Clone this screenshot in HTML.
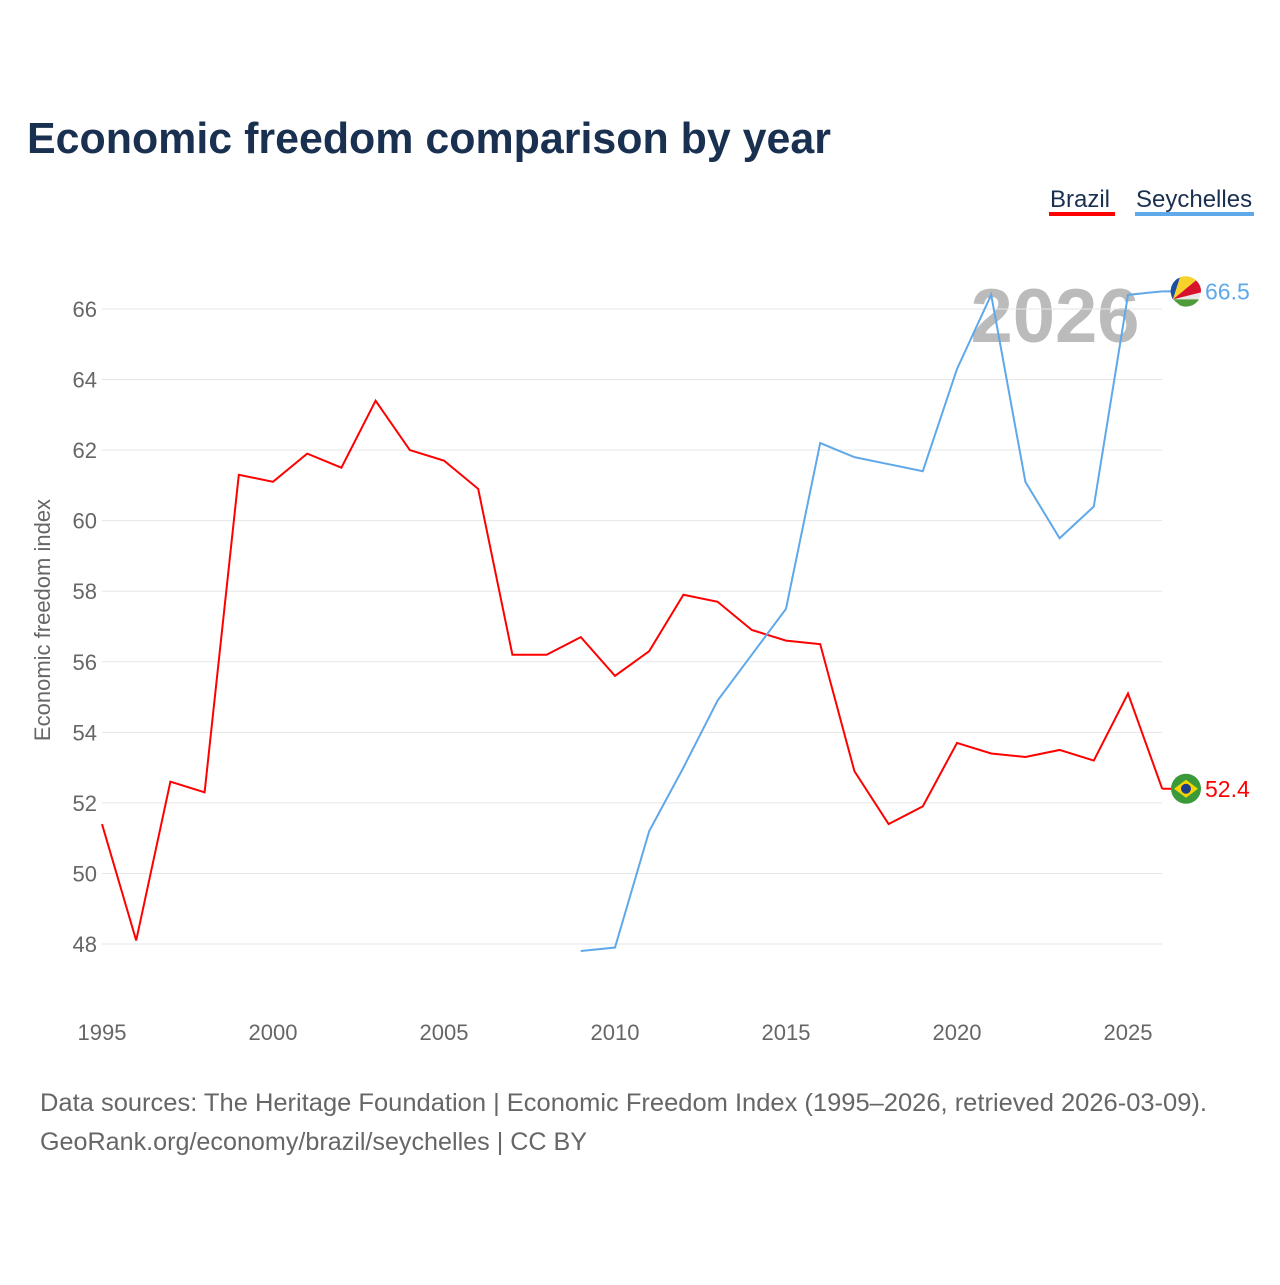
<!DOCTYPE html>
<html><head><meta charset="utf-8"><style>
body{margin:0;background:#fff;font-family:"Liberation Sans",sans-serif;}
</style></head><body>
<svg id="chart" width="1280" height="1280" xmlns="http://www.w3.org/2000/svg">
<text x="27" y="153" font-size="44" font-weight="bold" fill="#1a3050" textLength="804" lengthAdjust="spacingAndGlyphs">Economic freedom comparison by year</text>
<g><text x="1050" y="207" font-size="24" fill="#1a3050">Brazil</text><rect x="1049" y="212" width="66" height="4" fill="#ff0000"/></g>
<g><text x="1136" y="207" font-size="24" fill="#1a3050">Seychelles</text><rect x="1135" y="212" width="119" height="4" fill="#5fa8ea"/></g>
<text x="1055" y="342" font-size="76" font-weight="bold" fill="#bbbbbb" text-anchor="middle">2026</text>
<text transform="translate(50,620) rotate(-90)" font-size="22" fill="#666" text-anchor="middle">Economic freedom index</text>
<g id="grid"></g><g id="lines"></g>
<text x="40" y="1111" font-size="25" fill="#666" textLength="1167" lengthAdjust="spacingAndGlyphs">Data sources: The Heritage Foundation | Economic Freedom Index (1995–2026, retrieved 2026-03-09).</text>
<text x="40" y="1150" font-size="25" fill="#666" textLength="547" lengthAdjust="spacingAndGlyphs">GeoRank.org/economy/brazil/seychelles | CC BY</text>
</svg>
<script>
const years=[1995,1996,1997,1998,1999,2000,2001,2002,2003,2004,2005,2006,2007,2008,2009,2010,2011,2012,2013,2014,2015,2016,2017,2018,2019,2020,2021,2022,2023,2024,2025,2026];
const brazil=[51.4,48.1,52.6,52.3,61.3,61.1,61.9,61.5,63.4,62.0,61.7,60.9,56.2,56.2,56.7,55.6,56.3,57.9,57.7,56.9,56.6,56.5,52.9,51.4,51.9,53.7,53.4,53.3,53.5,53.2,55.1,52.4];
const seyYears=[2009,2010,2011,2012,2013,2014,2015,2016,2017,2018,2019,2020,2021,2022,2023,2024,2025,2026];
const seychelles=[47.8,47.9,51.2,53.0,54.9,56.2,57.5,62.2,61.8,61.6,61.4,64.3,66.4,61.1,59.5,60.4,66.4,66.5];
const yTicks=[48,50,52,54,56,58,60,62,64,66];
const xTicks=[1995,2000,2005,2010,2015,2020,2025];
const NS="http://www.w3.org/2000/svg";
const x=v=>102+(v-1995)*34.2;
const y=v=>944-(v-48)*35.28;
function mk(t,a,p){const e=document.createElementNS(NS,t);for(const k in a)e.setAttribute(k,a[k]);p.appendChild(e);return e;}
const g=document.getElementById('grid'),L=document.getElementById('lines');
yTicks.forEach(t=>{
 const l=mk('line',{x1:102,x2:1162,y1:y(t),y2:y(t),stroke:'#e6e6e6'},g);
 
 
 const tx=mk('text',{x:97,y:y(t)+8,'font-size':22,fill:'#666','text-anchor':'end'},g);tx.textContent=t;
 
 
});
xTicks.forEach(t=>{
 const tx=mk('text',{x:x(t),y:1040,'font-size':22,fill:'#666','text-anchor':'middle'},g);tx.textContent=t;
 
 
});
const p1=mk('polyline',{points:years.map((yr,i)=>x(yr)+','+y(brazil[i])).join(' '),fill:'none',stroke:'#ff0000','stroke-width':2},L);


const p2=mk('polyline',{points:seyYears.map((yr,i)=>x(yr)+','+y(seychelles[i])).join(' '),fill:'none',stroke:'#5fa8ea','stroke-width':2},L);


const bv=brazil[brazil.length-1],sv=seychelles[seychelles.length-1];
mk('line',{x1:x(2026),x2:1186,y1:y(bv),y2:y(bv),stroke:'#ff0000','stroke-width':2},L);
mk('line',{x1:x(2026),x2:1186,y1:y(sv),y2:y(sv),stroke:'#5fa8ea','stroke-width':2},L);
const bf=mk('g',{},L);


mk('circle',{cx:1186,cy:y(bv),r:15,fill:'#3a9a3a'},bf);
mk('polygon',{points:`1174,${y(bv)} 1186,${y(bv)-9} 1198,${y(bv)} 1186,${y(bv)+9}`,fill:'#f5d400'},bf);
mk('circle',{cx:1186,cy:y(bv),r:5,fill:'#1d3c8a'},bf);
const sf=mk('g',{},L);


const cy=y(sv);
mk('circle',{cx:1186,cy:cy,r:15,fill:'#e8e8e8'},sf);
mk('path',{d:`M1173,${cy+8} A15,15 0 0 1 1180,${cy-14} Z`,fill:'#1d4fa0'},sf);
mk('path',{d:`M1173,${cy+8} L1180,${cy-14} A15,15 0 0 1 1196,${cy-11} Z`,fill:'#f7d22a'},sf);
mk('path',{d:`M1173,${cy+8} L1196,${cy-11} A15,15 0 0 1 1201,${cy+1} Z`,fill:'#d8112d'},sf);
mk('path',{d:`M1173,${cy+8} L1199,${cy+8} A15,15 0 0 1 1180,${cy+14} Z`,fill:'#4f9b3a'},sf);
const t1=mk('text',{x:1205,y:y(bv)+8,'font-size':23,fill:'#ff0000'},L);t1.textContent=bv.toFixed(1);


const t2=mk('text',{x:1205,y:y(sv)+8,'font-size':23,fill:'#5fa8ea'},L);t2.textContent=sv.toFixed(1);


</script>
</body></html>
